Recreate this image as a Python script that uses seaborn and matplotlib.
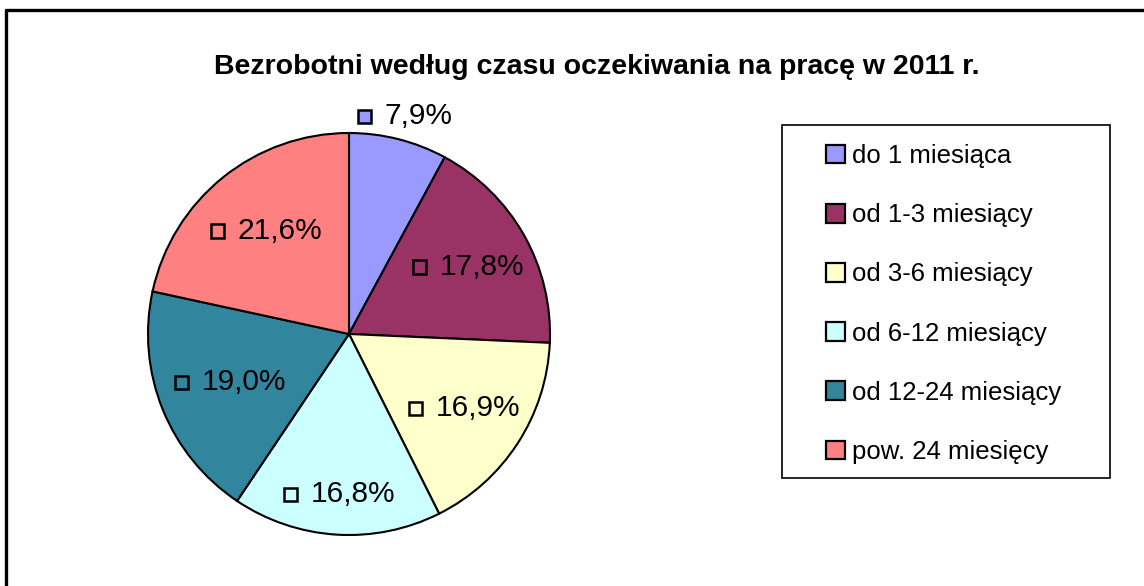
import numpy as np
import matplotlib
matplotlib.use("Agg")
import matplotlib.pyplot as plt
import seaborn as sns
from matplotlib.patches import Rectangle, Patch
from matplotlib.lines import Line2D
from matplotlib.offsetbox import DrawingArea, TextArea, HPacker, AnnotationBbox

# dane: bezrobotni wg czasu oczekiwania na pracę (2011)
categories = ["do 1 miesiąca", "od 1-3 miesiący", "od 3-6 miesiący",
              "od 6-12 miesiący", "od 12-24 miesiący", "pow. 24 miesięcy"]
shares = [7.9, 17.8, 16.9, 16.8, 19.0, 21.6]
colors = ["#9999FF", "#993366", "#FFFFCC", "#CCFFFF", "#31859C", "#FF8080"]
title = "Bezrobotni według czasu oczekiwania na pracę w 2011 r."

# odległość etykiet od środka (w promieniach)
label_dist = [1.12, 0.68, 0.68, 0.8, 0.64, 0.66]


def main():
    sns.set_theme(style="white")
    plt.rcParams['font.family'] = ['Liberation Sans', 'DejaVu Sans']
    plt.rcParams['text.color'] = 'black'

    W, H = 1144, 586
    fig = plt.figure(figsize=(W / 100, H / 100), dpi=100)

    # ramka wykresu (widoczna tylko góra i lewa strona)
    fig.add_artist(Line2D([6 / W, 1], [1 - 10 / H, 1 - 10 / H], color="black", lw=2.4))
    fig.add_artist(Line2D([6 / W, 6 / W], [0, 1 - 10 / H], color="black", lw=2.4))

    fig.text(597 / W, 1 - 67 / H, title, ha="center", va="center",
             fontsize=20.5, fontweight="bold", color="black")

    # kołowy
    cx, cy, r = 349, 334, 201
    ax = fig.add_axes([(cx - r) / W, 1 - (cy + r) / H, 2 * r / W, 2 * r / H])
    wedges, _ = ax.pie(shares, colors=colors, startangle=90, counterclock=False,
                       radius=1, wedgeprops=dict(edgecolor="black", linewidth=1.5))
    ax.set_xlim(-1, 1)
    ax.set_ylim(-1, 1)
    ax.set_aspect("equal")
    ax.axis("off")

    # etykiety z kwadracikami
    for w, val, col, d in zip(wedges, shares, colors, label_dist):
        ang = np.deg2rad((w.theta1 + w.theta2) / 2)
        x, y = d * np.cos(ang), d * np.sin(ang)
        da = DrawingArea(12, 12, 0, 0)
        da.add_artist(Rectangle((1, 1), 9.5, 9.5, facecolor=col,
                                edgecolor="black", linewidth=1.8))
        ta = TextArea(f"{val:.1f}%".replace(".", ","),
                      textprops=dict(fontsize=21.5, color="black"))
        box = HPacker(children=[da, ta], align="center", pad=0, sep=8)
        ab = AnnotationBbox(box, (x, y), xycoords="data", frameon=False,
                            box_alignment=(0.5, 0.5), annotation_clip=False)
        ax.add_artist(ab)

    # legenda w osobnej ramce
    fig.add_artist(Rectangle((782 / W, 1 - 478 / H), 328 / W, 353 / H,
                             transform=fig.transFigure, facecolor="white",
                             edgecolor="black", linewidth=1.2))
    handles = [Patch(facecolor=c, edgecolor="black", linewidth=1.6) for c in colors]
    fig.legend(handles, categories, loc="upper left",
               bbox_to_anchor=(826 / W, 1 - 144 / H), frameon=False,
               fontsize=18.5, handlelength=0.75, handleheight=0.75,
               handletextpad=0.25, labelspacing=1.37, borderpad=0,
               borderaxespad=0, labelcolor="black")

    fig.savefig("out.png", dpi=100)


if __name__ == "__main__":
    main()
